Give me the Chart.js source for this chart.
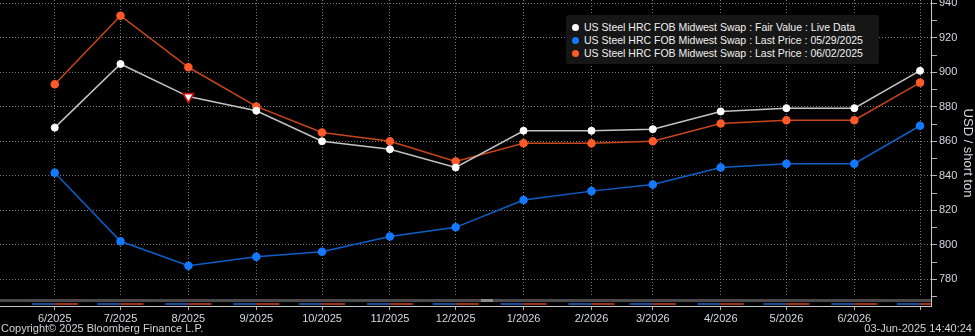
<!DOCTYPE html>
<html>
<head>
<meta charset="utf-8">
<script src="https://cdn.jsdelivr.net/npm/chart.js@4/dist/chart.umd.min.js"></script>
<style>
  html, body { margin: 0; padding: 0; background: #000; }
  #wrap { position: relative; width: 975px; height: 336px; background: #000; overflow: hidden; }
  #chart { position: absolute; left: 0; top: 0; }
  .txt { position: absolute; font: 11px "Liberation Sans", Arial, sans-serif; color: #cfd3da; white-space: nowrap; }
  #legend { position: absolute; left: 566px; top: 15px; width: 313px; height: 49px; background: #161616; border-radius: 2px; }
  #legend div { position: absolute; left: 18px; font: 10.5px "Liberation Sans", Arial, sans-serif; color: #f0f0f0; white-space: nowrap; }
  #legend span { position: absolute; left: -12px; top: 3px; width: 7px; height: 7px; border-radius: 50%; }
</style>
</head>
<body>
<div id="wrap">
  <canvas id="chart" width="975" height="336"></canvas>
  <div id="legend"></div>
  <div class="txt" style="left:1px; top:322px;">Copyright© 2025 Bloomberg Finance L.P.</div>
  <div class="txt" style="right:3px; top:322px;">03-Jun-2025 14:40:24</div>
</div>
<script>
// contract months (first of month) and their tick labels
const dates = ['2025-06-01', '2025-07-01', '2025-08-01', '2025-09-01', '2025-10-01', '2025-11-01', '2025-12-01',
  '2026-01-01', '2026-02-01', '2026-03-01', '2026-04-01', '2026-05-01', '2026-06-01', '2026-07-01'];
const monthLabels = ['6/2025', '7/2025', '8/2025', '9/2025', '10/2025', '11/2025', '12/2025',
  '1/2026', '2/2026', '3/2026', '4/2026', '5/2026', '6/2026', ''];

// USD / short ton
const fairValue = [867.9, 904.8, 885.9, 877.7, 860.0, 855.4, 844.8, 866.1, 866.1, 867.0, 877.3, 879.2, 879.2, 900.9];
const last0529 = [841.7, 802.0, 787.8, 793.0, 795.9, 804.8, 810.1, 825.9, 831.1, 835.0, 844.8, 847.0, 847.0, 869.0];
const last0602 = [893.0, 932.8, 902.9, 880.2, 865.1, 860.0, 848.3, 858.9, 858.9, 860.0, 870.3, 872.2, 872.2, 894.0];

const seriesNames = [
  'US Steel HRC FOB Midwest Swap : Fair Value : Live Data',
  'US Steel HRC FOB Midwest Swap : Last Price : 05/29/2025',
  'US Steel HRC FOB Midwest Swap : Last Price : 06/02/2025'
];
const yLabelTicks = [780, 800, 820, 840, 860, 880, 900, 920, 940];

const xStart = '2025-05-07';
const xEnd = '2026-07-06';
const yMin = 764.5;
const yMax = 941.9;

const base = Date.UTC(2025, 5, 1);
function dayOf(s) {
  const p = s.split('-').map(Number);
  return (Date.UTC(p[0], p[1] - 1, p[2]) - base) / 86400000;
}
const toPoints = arr => arr.map((v, i) => ({ x: dayOf(dates[i]), y: v }));

const markerColors = ['#ffffff', '#1479ff', '#ff5a28'];
const lineColors = ['#c4c4c4', '#0e5fc8', '#c8461c'];

// legend (html box inside plot, top right)
const legend = document.getElementById('legend');
seriesNames.forEach((n, i) => {
  const d = document.createElement('div');
  d.style.top = (6 + i * 13) + 'px';
  d.textContent = n;
  const dot = document.createElement('span');
  dot.style.background = markerColors[i];
  d.appendChild(dot);
  legend.appendChild(d);
});

// the red "event" triangle sitting on the 8/2025 fair value point
const fvStyles = fairValue.map((v, i) => i === 2 ? 'triangle' : 'circle');
const fvRot = fairValue.map((v, i) => i === 2 ? 180 : 0);
const fvBorder = fairValue.map((v, i) => i === 2 ? '#d01010' : '#ffffff');
const fvBorderW = fairValue.map((v, i) => i === 2 ? 1.6 : 1);
const fvRadius = fairValue.map((v, i) => i === 2 ? 6 : 3.5);

// grey strip + blue/red period bars just above the time axis
const bottomStrip = {
  id: 'bottomStrip',
  beforeDatasetsDraw(chart) {
    const { ctx, chartArea, scales } = chart;
    const b = chartArea.bottom;
    ctx.save();
    ctx.fillStyle = '#000';
    ctx.fillRect(chartArea.left, b - 9, chartArea.right - chartArea.left, 9);
    ctx.fillStyle = '#4a4a4a';
    ctx.fillRect(chartArea.left, b - 7, chartArea.right - chartArea.left, 3);
    ctx.fillStyle = '#8c8c8c';
    ctx.fillRect(481, b - 7, 12, 3);
    ctx.beginPath();
    ctx.rect(chartArea.left, 0, chartArea.right - chartArea.left, chart.height);
    ctx.clip();
    dates.forEach(d => {
      const x = scales.x.getPixelForValue(dayOf(d));
      ctx.fillStyle = '#1d4d9a';
      ctx.fillRect(x - 23, b - 3, 23, 2);
      ctx.fillStyle = '#a0341a';
      ctx.fillRect(x, b - 3, 23, 2);
    });
    ctx.restore();
  }
};

const axisText = '#d3d9e2';
const gridColor = '#7a7a7a';

const ctx = document.getElementById('chart').getContext('2d');
const chart = new Chart(ctx, {
  type: 'line',
  data: {
    datasets: [
      {
        label: seriesNames[0], data: toPoints(fairValue),
        borderColor: lineColors[0], borderWidth: 1.5,
        pointBackgroundColor: '#ffffff', pointBorderColor: fvBorder, pointBorderWidth: fvBorderW,
        pointStyle: fvStyles, pointRotation: fvRot, pointRadius: fvRadius, order: 1
      },
      {
        label: seriesNames[1], data: toPoints(last0529),
        borderColor: lineColors[1], borderWidth: 1.5,
        pointBackgroundColor: markerColors[1], pointBorderColor: markerColors[1], pointRadius: 3.5, order: 3
      },
      {
        label: seriesNames[2], data: toPoints(last0602),
        borderColor: lineColors[2], borderWidth: 1.5,
        pointBackgroundColor: markerColors[2], pointBorderColor: markerColors[2], pointRadius: 3.5, order: 2
      }
    ]
  },
  options: {
    responsive: false,
    animation: false,
    layout: { padding: 0, autoPadding: false },
    plugins: { legend: { display: false }, tooltip: { enabled: false } },
    scales: {
      x: {
        type: 'linear',
        min: dayOf(xStart),
        max: dayOf(xEnd),
        afterBuildTicks: s => { s.ticks = dates.map(d => ({ value: dayOf(d) })); },
        afterFit: s => { s.height = 30; s.paddingLeft = 0; s.paddingRight = 0; },
        ticks: {
          autoSkip: false, maxRotation: 0, padding: 2, color: axisText,
          font: { family: 'Liberation Sans', size: 11 },
          callback: (v, i) => monthLabels[i]
        },
        grid: { color: gridColor, tickColor: '#b0b0b0', tickLength: 4 },
        border: { color: '#c8c8c8', width: 1, dash: [1, 2] }
      },
      y: {
        position: 'right',
        min: yMin,
        max: yMax,
        afterBuildTicks: s => {
          const t = [];
          for (let v = 770; v <= 940; v += 10) t.push({ value: v });
          s.ticks = t;
        },
        afterFit: s => { s.width = 44; s.paddingTop = 0; s.paddingBottom = 0; },
        ticks: {
          padding: 2, color: axisText,
          font: { family: 'Liberation Sans', size: 11 },
          callback: v => yLabelTicks.includes(v) ? String(v) : ''
        },
        grid: {
          color: c => (c.tick && yLabelTicks.includes(c.tick.value)) ? gridColor : 'rgba(0,0,0,0)',
          tickColor: '#b0b0b0', tickLength: 6
        },
        border: { color: '#c8c8c8', width: 1, dash: [1, 2] },
        title: {
          display: true, text: 'USD / short ton', color: axisText,
          font: { family: 'Liberation Sans', size: 13 }, padding: 0
        }
      }
    }
  },
  plugins: [bottomStrip]
});
</script>
</body>
</html>
